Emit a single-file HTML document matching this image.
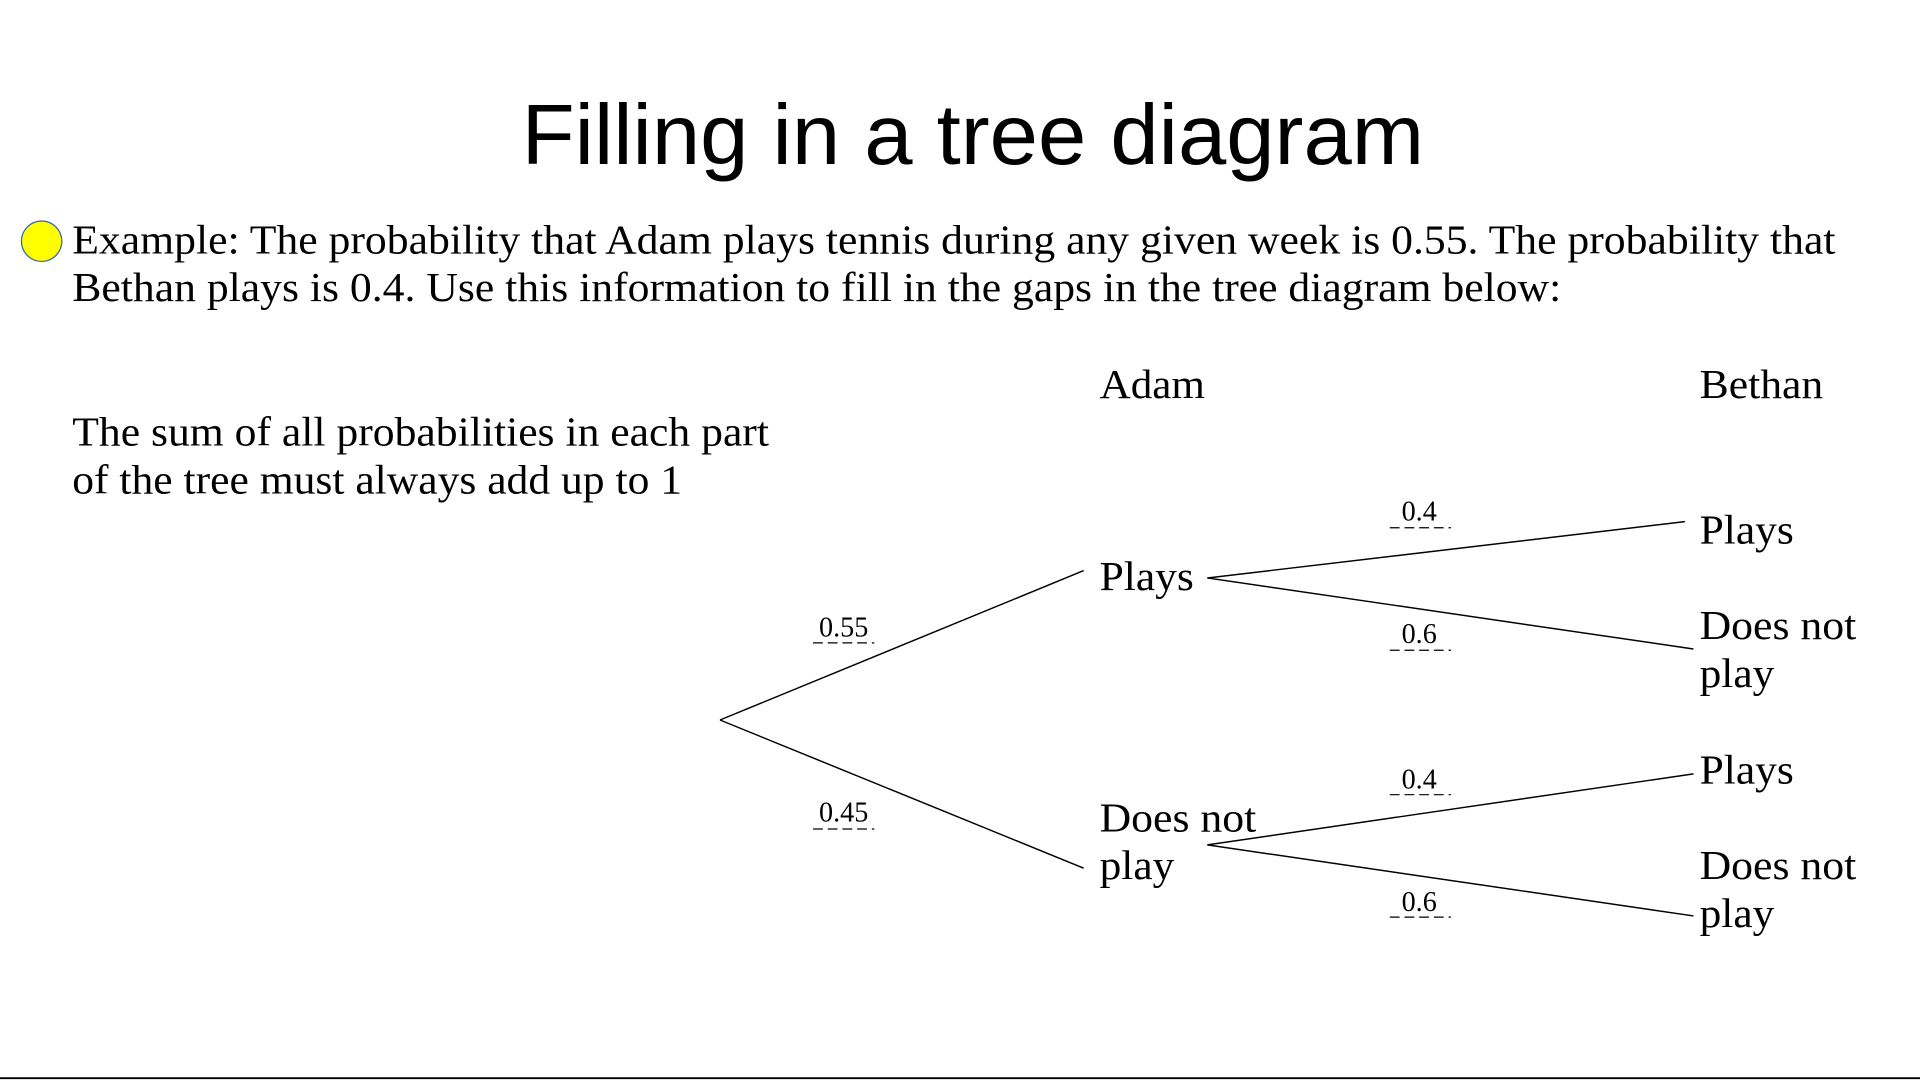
<!DOCTYPE html>
<html><head><meta charset="utf-8"><style>
html,body{margin:0;padding:0;background:#fff;overflow:hidden}
svg{display:block}
.s{font-family:"Liberation Serif",serif;fill:#000}
</style></head><body>
<svg width="1920" height="1080" viewBox="0 0 1568 882" xmlns="http://www.w3.org/2000/svg">
<rect width="1568" height="882" fill="#fff"/>
<line x1="0" y1="880.5" x2="1568" y2="880.5" stroke="#000" stroke-width="1.5"/>
<text x="426" y="134" font-family="Liberation Sans, sans-serif" font-size="70" textLength="737" lengthAdjust="spacingAndGlyphs">Filling in a tree diagram</text>
<circle cx="34" cy="197" r="16.5" fill="#ff0" stroke="#3465a4" stroke-width="1"/>
<g class="s" font-size="34">
<text x="59" y="207" textLength="1440" lengthAdjust="spacingAndGlyphs">Example: The probability that Adam plays tennis during any given week is 0.55. The probability that</text>
<text x="59" y="246" textLength="1216" lengthAdjust="spacingAndGlyphs">Bethan plays is 0.4. Use this information to fill in the gaps in the tree diagram below:</text>
<text x="59" y="364" textLength="569" lengthAdjust="spacingAndGlyphs">The sum of all probabilities in each part</text>
<text x="59" y="403" textLength="498" lengthAdjust="spacingAndGlyphs">of the tree must always add up to 1</text>
<text x="898" y="325" textLength="86" lengthAdjust="spacingAndGlyphs">Adam</text>
<text x="1388" y="325" textLength="101" lengthAdjust="spacingAndGlyphs">Bethan</text>
<text x="898" y="482" textLength="77" lengthAdjust="spacingAndGlyphs">Plays</text>
<text x="898" y="679" textLength="128" lengthAdjust="spacingAndGlyphs">Does not</text>
<text x="898" y="718" textLength="61" lengthAdjust="spacingAndGlyphs">play</text>
<text x="1388" y="444" textLength="77" lengthAdjust="spacingAndGlyphs">Plays</text>
<text x="1388" y="522" textLength="128" lengthAdjust="spacingAndGlyphs">Does not</text>
<text x="1388" y="561" textLength="61" lengthAdjust="spacingAndGlyphs">play</text>
<text x="1388" y="640" textLength="77" lengthAdjust="spacingAndGlyphs">Plays</text>
<text x="1388" y="718" textLength="128" lengthAdjust="spacingAndGlyphs">Does not</text>
<text x="1388" y="757" textLength="61" lengthAdjust="spacingAndGlyphs">play</text>
</g>
<g stroke="#000" stroke-width="1.2" fill="none">
<line x1="588" y1="588" x2="885" y2="466"/>
<line x1="588" y1="588" x2="885" y2="709"/>
<line x1="986" y1="472" x2="1376" y2="426"/>
<line x1="986" y1="472" x2="1383" y2="530"/>
<line x1="986" y1="690" x2="1383" y2="632"/>
<line x1="986" y1="690" x2="1383" y2="748"/>
</g>
<g stroke="#000" stroke-width="1" stroke-dasharray="8,4">
<line x1="664" y1="525" x2="714" y2="525"/>
<line x1="664" y1="677" x2="714" y2="677"/>
<line x1="1135" y1="431" x2="1185" y2="431"/>
<line x1="1135" y1="531" x2="1185" y2="531"/>
<line x1="1135" y1="649" x2="1185" y2="649"/>
<line x1="1135" y1="749" x2="1185" y2="749"/>
</g>
<g class="s" font-size="23" text-anchor="middle">
<text x="689" y="520">0.55</text>
<text x="689" y="671">0.45</text>
<text x="1159" y="425">0.4</text>
<text x="1159" y="525">0.6</text>
<text x="1159" y="644">0.4</text>
<text x="1159" y="744">0.6</text>
</g>
</svg>
</body></html>
